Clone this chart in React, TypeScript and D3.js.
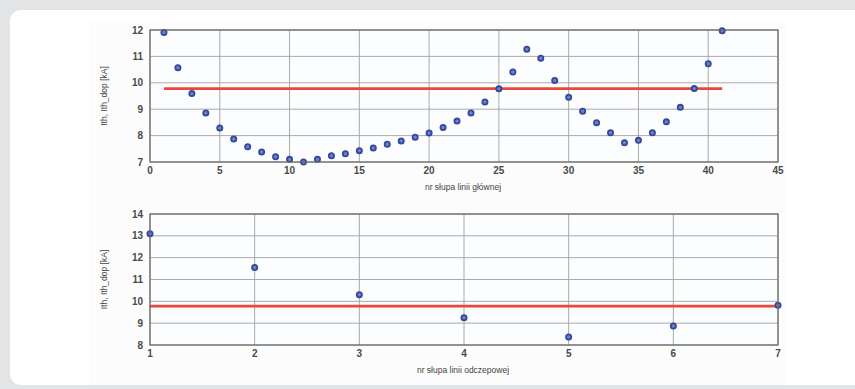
import React from "react";
import * as d3 from "d3";

// top panel: main line poles
const mainPoles = d3.range(1, 42);
const mainValues = [
  11.91, 10.57, 9.59, 8.86, 8.29, 7.87, 7.58, 7.38, 7.2, 7.1, 7.0, 7.1, 7.24,
  7.31, 7.43, 7.53, 7.67, 7.8, 7.94, 8.1, 8.31, 8.55, 8.86, 9.27, 9.77, 10.41,
  11.27, 10.93, 10.09, 9.45, 8.92, 8.49, 8.11, 7.73, 7.82, 8.11, 8.52, 9.07,
  9.78, 10.72, 11.97,
];
const mainXTicks = [0, 5, 10, 15, 20, 25, 30, 35, 40, 45];
const mainYTicks = [7, 8, 9, 10, 11, 12];

// bottom panel: branch line poles
const branchPoles = [1, 2, 3, 4, 5, 6, 7];
const branchValues = [13.1, 11.55, 10.3, 9.25, 8.37, 8.87, 9.82];
const branchXTicks = [1, 2, 3, 4, 5, 6, 7];
const branchYTicks = [8, 9, 10, 11, 12, 13, 14];

const limitValue = 9.78;

const W = 855;
const H = 389;
const FONT = "Liberation Sans, Arial, sans-serif";

type PanelProps = {
  top: number;
  bottom: number;
  xDomain: [number, number];
  yDomain: [number, number];
  xTicks: number[];
  yTicks: number[];
  xs: number[];
  ys: number[];
  limitFrom: number;
  limitTo: number;
  xLabel: string;
};

function Panel({
  top,
  bottom,
  xDomain,
  yDomain,
  xTicks,
  yTicks,
  xs,
  ys,
  limitFrom,
  limitTo,
  xLabel,
}: PanelProps) {
  const left = 150;
  const right = 778;
  const x = d3.scaleLinear().domain(xDomain).range([left, right]);
  const y = d3.scaleLinear().domain(yDomain).range([bottom, top]);
  const grid = "#a0a0a0";
  const tickColor = "#4a4a4a";

  return (
    <g>
      <rect x={left} y={top} width={right - left} height={bottom - top} fill="#fbfdff" />
      {xTicks.map((t) => (
        <line key={"gx" + t} x1={x(t)} x2={x(t)} y1={top} y2={bottom} stroke={grid} strokeWidth={0.9} />
      ))}
      {yTicks.map((t) => (
        <line key={"gy" + t} x1={left} x2={right} y1={y(t)} y2={y(t)} stroke={grid} strokeWidth={0.9} />
      ))}
      <line
        x1={x(limitFrom)}
        x2={x(limitTo)}
        y1={y(limitValue)}
        y2={y(limitValue)}
        stroke="#e8493a"
        strokeWidth={2.6}
      />
      {xs.map((v, i) => (
        <circle
          key={i}
          cx={x(v)}
          cy={y(ys[i])}
          r={2.6}
          fill="#7482c4"
          stroke="#33489f"
          strokeWidth={1.8}
        />
      ))}
      <rect
        x={left}
        y={top}
        width={right - left}
        height={bottom - top}
        fill="none"
        stroke="#666"
        strokeWidth={1.2}
      />
      {xTicks.map((t) => (
        <text
          key={"tx" + t}
          x={x(t)}
          y={bottom + 12}
          textAnchor="middle"
          fontSize={10}
          fontWeight="bold"
          fontFamily={FONT}
          fill={tickColor}
        >
          {t}
        </text>
      ))}
      {yTicks.map((t) => (
        <text
          key={"ty" + t}
          x={left - 7}
          y={y(t) + 3.5}
          textAnchor="end"
          fontSize={10}
          fontWeight="bold"
          fontFamily={FONT}
          fill={tickColor}
        >
          {t}
        </text>
      ))}
      <text
        x={(left + right) / 2 - 1}
        y={bottom + 28}
        textAnchor="middle"
        fontSize={8.5}
        fontFamily={FONT}
        fill="#444"
      >
        {xLabel}
      </text>
      <text
        transform={`translate(107, ${(top + bottom) / 2}) rotate(-90)`}
        textAnchor="middle"
        fontSize={8.5}
        fontFamily={FONT}
        fill="#444"
      >
        Ith, Ith_dop [kA]
      </text>
    </g>
  );
}

export default function App() {
  return (
    <svg
      width={W}
      height={H}
      style={{ position: "absolute", left: 0, top: 0, display: "block" }}
    >
      <rect x={0} y={0} width={W} height={H} fill="#e2e4e6" />
      <rect x={10} y={10} width={W + 20} height={H - 14} rx={11} fill="#ffffff" />
      <rect x={89} y={22} width={697} height={363} fill="#fcfcfc" />
      <Panel
        top={30}
        bottom={162}
        xDomain={[0, 45]}
        yDomain={[7, 12]}
        xTicks={mainXTicks}
        yTicks={mainYTicks}
        xs={mainPoles}
        ys={mainValues}
        limitFrom={1}
        limitTo={41}
        xLabel="nr słupa linii głównej"
      />
      <Panel
        top={214}
        bottom={345}
        xDomain={[1, 7]}
        yDomain={[8, 14]}
        xTicks={branchXTicks}
        yTicks={branchYTicks}
        xs={branchPoles}
        ys={branchValues}
        limitFrom={1}
        limitTo={7}
        xLabel="nr słupa linii odczepowej"
      />
    </svg>
  );
}
